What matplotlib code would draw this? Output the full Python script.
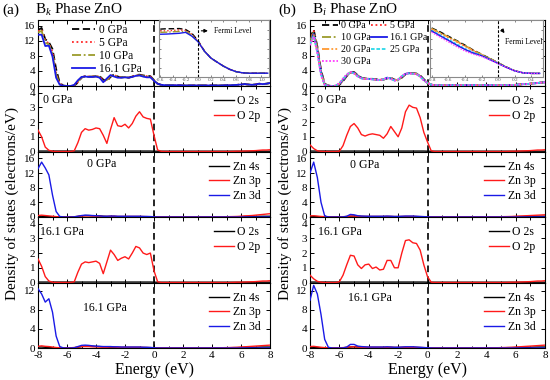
import numpy as np
import matplotlib
matplotlib.use("Agg")
import matplotlib.pyplot as plt
from matplotlib.ticker import MultipleLocator

plt.rcParams['font.family'] = ['Liberation Serif', 'DejaVu Serif']
plt.rcParams['mathtext.fontset'] = 'custom'
plt.rcParams['mathtext.rm'] = 'Liberation Serif'
plt.rcParams['mathtext.it'] = 'Liberation Serif:italic'
plt.rcParams['axes.unicode_minus'] = False

# ---------------- data ----------------
energy = np.linspace(-8, 8, 65)   # eV, 0.25 eV steps

Z8 = [0, 0, 0, 0, 0, 0, 0, 0]

# ---- (a) Bk phase : total DOS ----
tot_a_0 = [14.8, 15.4, 12.4, 11.6, 9.8, 4.5, 0.8, 0.1,
           0.0, 0.0, 0.1, 0.9, 2.2, 2.6, 2.5, 2.5,
           2.6, 2.6, 1.7, 1.3, 2.4, 3.1, 2.5, 2.3,
           2.4, 2.2, 2.5, 2.9, 3.0, 2.8, 2.7, 2.6,
           1.6, 0.6, 0.3, 0.22, 0.2, 0.2, 0.2, 0.2,
           0.15, 0.15, 0.15, 0.15, 0.15, 0.15, 0.15, 0.15,
           0.15, 0.15, 0.15, 0.15, 0.2, 0.2, 0.25, 0.3,
           0.4, 0.5, 0.4, 0.3, 0.4, 0.6, 0.5, 0.6, 0.8]
tot_a_5 = [14.5, 15.0, 12.0, 11.3, 9.0, 3.5, 0.6, 0.08,
           0.0, 0.0, 0.15, 1.0, 2.3, 2.6, 2.5, 2.5,
           2.6, 2.5, 1.5, 1.4, 2.5, 3.0, 2.4, 2.3,
           2.4, 2.2, 2.5, 2.8, 2.9, 2.7, 2.6, 2.5,
           1.55, 0.6, 0.3, 0.22, 0.2, 0.2, 0.2, 0.2,
           0.15, 0.15, 0.15, 0.15, 0.15, 0.15, 0.15, 0.15,
           0.15, 0.15, 0.15, 0.15, 0.2, 0.2, 0.25, 0.3,
           0.4, 0.5, 0.4, 0.3, 0.4, 0.6, 0.5, 0.6, 0.8]
tot_a_10 = [14.2, 14.6, 11.5, 11.0, 8.6, 3.0, 0.5, 0.06,
            0.0, 0.0, 0.2, 1.2, 2.3, 2.5, 2.45, 2.45,
            2.55, 2.4, 1.3, 1.6, 2.7, 2.8, 2.35, 2.25,
            2.35, 2.2, 2.45, 2.75, 2.85, 2.6, 2.5, 2.45,
            1.5, 0.6, 0.3, 0.22, 0.2, 0.2, 0.2, 0.2,
            0.15, 0.15, 0.15, 0.15, 0.15, 0.15, 0.15, 0.15,
            0.15, 0.15, 0.15, 0.15, 0.2, 0.2, 0.25, 0.3,
            0.4, 0.5, 0.4, 0.3, 0.4, 0.6, 0.5, 0.6, 0.8]
tot_a_16 = [13.6, 13.6, 10.6, 10.7, 7.8, 2.2, 0.35, 0.05,
            0.0, 0.0, 0.3, 1.5, 2.4, 2.5, 2.4, 2.4,
            2.5, 2.2, 1.0, 2.0, 2.9, 2.5, 2.2, 2.2,
            2.3, 2.2, 2.4, 2.7, 2.8, 2.5, 2.3, 2.3,
            1.4, 0.6, 0.3, 0.22, 0.2, 0.2, 0.2, 0.2,
            0.15, 0.15, 0.15, 0.15, 0.15, 0.15, 0.15, 0.15,
            0.15, 0.15, 0.15, 0.15, 0.2, 0.2, 0.25, 0.3,
            0.4, 0.5, 0.4, 0.3, 0.4, 0.6, 0.5, 0.6, 0.8]

# ---- (a) PDOS 0 GPa ----
o2s_a0 = [0.03] * 32 + [0.02] * 33
o2p_a0 = [1.45, 1.0, 0.3, 0.08, 0.02, 0.0, 0.0, 0.0,
          0.0, 0.0, 0.05, 0.6, 1.3, 1.55, 1.45, 1.5,
          1.6, 1.55, 1.1, 0.55, 1.5, 2.3, 1.75, 1.7,
          1.85, 1.6, 1.9, 2.4, 2.7, 2.35, 2.25, 2.2,
          1.1, 0.1, 0.01, 0, 0, 0, 0, 0] + Z8 + \
         [0, 0, 0, 0, 0, 0, 0.01, 0.02,
          0.02, 0.03, 0.04, 0.05, 0.06, 0.08, 0.1, 0.1, 0.12]
zn4s_a0 = [0.2, 0.2, 0.15, 0.1, 0.05, 0.03, 0.02, 0.02,
           0.02, 0.02, 0.05, 0.15, 0.3, 0.4, 0.4, 0.35,
           0.3, 0.3, 0.2, 0.15, 0.15, 0.15, 0.1, 0.1,
           0.1, 0.1, 0.1, 0.1, 0.1, 0.1, 0.08, 0.06,
           0.04, 0.03, 0.03, 0.03, 0.03, 0.03, 0.03, 0.03,
           0.03, 0.03, 0.03, 0.03, 0.04, 0.04, 0.04, 0.04,
           0.05, 0.05, 0.05, 0.05, 0.06, 0.06, 0.08, 0.08,
           0.1, 0.12, 0.12, 0.15, 0.15, 0.18, 0.2, 0.2, 0.2]
zn3p_a0 = [0.4, 0.5, 0.4, 0.3, 0.2, 0.1, 0.05, 0.05,
           0.05, 0.05, 0.08, 0.15, 0.25, 0.3, 0.3, 0.25,
           0.25, 0.2, 0.15, 0.15, 0.2, 0.2, 0.15, 0.15,
           0.15, 0.15, 0.15, 0.15, 0.15, 0.12, 0.1, 0.08,
           0.05, 0.05, 0.05, 0.05, 0.05, 0.05, 0.05, 0.05,
           0.05, 0.05, 0.05, 0.05, 0.05, 0.05, 0.05, 0.05,
           0.05, 0.05, 0.06, 0.06, 0.08, 0.1, 0.12, 0.15,
           0.2, 0.3, 0.35, 0.4, 0.5, 0.6, 0.7, 0.8, 0.9]
zn3d_a0 = [13.2, 15.0, 13.4, 11.5, 6.0, 1.5, 0.15, 0.02,
           0.0, 0.0, 0.05, 0.2, 0.4, 0.5, 0.45, 0.4,
           0.35, 0.3, 0.2, 0.2, 0.25, 0.25, 0.2, 0.2,
           0.2, 0.2, 0.2, 0.2, 0.2, 0.15, 0.15, 0.12,
           0.05, 0.01, 0, 0, 0, 0, 0, 0] + Z8 + Z8 + Z8 + [0]

# ---- (a) PDOS 16.1 GPa ----
o2s_a16 = [0.03] * 32 + [0.02] * 33
o2p_a16 = [1.6, 1.1, 0.4, 0.1, 0.02, 0.0, 0.0, 0.0,
           0.0, 0.0, 0.05, 0.7, 1.25, 1.4, 1.35, 1.4,
           1.45, 1.3, 0.6, 1.4, 2.2, 1.9, 1.5, 1.65,
           1.75, 1.6, 2.0, 2.45, 2.35, 2.0, 1.9, 2.0,
           0.8, 0.05, 0.0, 0, 0, 0, 0, 0] + Z8 + \
          [0, 0, 0, 0, 0, 0, 0.01, 0.02,
           0.02, 0.03, 0.04, 0.05, 0.06, 0.08, 0.1, 0.1, 0.12]
zn4s_a16 = zn4s_a0
zn3p_a16 = [0.35, 0.45, 0.35, 0.3, 0.2, 0.1, 0.05, 0.05,
            0.05, 0.05, 0.1, 0.2, 0.3, 0.3, 0.3, 0.25,
            0.25, 0.2, 0.15, 0.15, 0.2, 0.2, 0.15, 0.15,
            0.15, 0.15, 0.15, 0.15, 0.15, 0.12, 0.1, 0.08,
            0.05, 0.05, 0.05, 0.05, 0.05, 0.05, 0.05, 0.05,
            0.05, 0.05, 0.05, 0.05, 0.05, 0.05, 0.05, 0.05,
            0.05, 0.05, 0.06, 0.06, 0.08, 0.1, 0.12, 0.15,
            0.2, 0.25, 0.3, 0.35, 0.4, 0.45, 0.5, 0.55, 0.6]
zn3d_a16 = [12.4, 11.3, 9.6, 10.3, 7.5, 2.5, 0.3, 0.02,
            0.0, 0.0, 0.05, 0.3, 0.55, 0.6, 0.55, 0.45,
            0.4, 0.35, 0.3, 0.3, 0.3, 0.25, 0.25, 0.2,
            0.2, 0.2, 0.2, 0.2, 0.2, 0.15, 0.15, 0.12,
            0.05, 0.01, 0, 0, 0, 0, 0, 0] + Z8 + Z8 + Z8 + [0]

# ---- (b) Bi phase : total DOS ----
tail_b = [0.8, 0.35, 0.2, 0.2, 0.2, 0.2, 0.2, 0.2,
          0.2, 0.2, 0.2, 0.2, 0.2, 0.2, 0.2, 0.2,
          0.2, 0.2, 0.2, 0.2, 0.2, 0.2, 0.2, 0.25,
          0.3, 0.4, 0.5, 0.5, 0.6, 0.7, 0.8, 0.9, 1.0]
tot_b_0 = [12.5, 15.0, 10.5, 4.2, 0.6, 0.1, 0.0, 0.02,
           0.3, 1.3, 2.6, 3.5, 3.7, 2.9, 2.2, 2.0,
           1.9, 1.9, 1.8, 1.7, 1.7, 2.0, 2.2, 1.7,
           1.5, 2.2, 3.1, 3.5, 3.4, 3.3, 2.8, 1.8] + tail_b
tot_b_5 = [12.2, 14.6, 10.2, 4.0, 0.5, 0.08, 0.0, 0.03,
           0.35, 1.4, 2.7, 3.5, 3.6, 2.8, 2.15, 1.95,
           1.9, 1.85, 1.75, 1.65, 1.7, 2.1, 2.1, 1.6,
           1.55, 2.3, 3.15, 3.45, 3.35, 3.25, 2.7, 1.7] + tail_b
tot_b_10 = [12.0, 14.3, 10.0, 3.8, 0.45, 0.06, 0.0, 0.04,
            0.4, 1.5, 2.75, 3.55, 3.55, 2.75, 2.1, 1.92,
            1.9, 1.8, 1.7, 1.6, 1.7, 2.15, 2.05, 1.55,
            1.58, 2.4, 3.18, 3.42, 3.32, 3.22, 2.65, 1.65] + tail_b
tot_b_16 = [11.5, 13.8, 9.5, 3.5, 0.4, 0.05, 0.0, 0.05,
            0.5, 1.6, 2.8, 3.6, 3.5, 2.7, 2.1, 1.9,
            1.9, 1.8, 1.7, 1.6, 1.7, 2.2, 2.0, 1.5,
            1.6, 2.5, 3.2, 3.4, 3.3, 3.2, 2.6, 1.6] + tail_b
tot_b_20 = [11.2, 13.5, 9.2, 3.2, 0.35, 0.04, 0.0, 0.06,
            0.6, 1.8, 2.9, 3.6, 3.4, 2.6, 2.05, 1.88,
            1.88, 1.78, 1.68, 1.58, 1.72, 2.2, 1.95, 1.48,
            1.65, 2.55, 3.22, 3.38, 3.28, 3.18, 2.55, 1.55] + tail_b
tot_b_25 = [11.0, 13.3, 9.0, 3.0, 0.3, 0.03, 0.0, 0.07,
            0.7, 1.9, 3.0, 3.65, 3.35, 2.55, 2.0, 1.85,
            1.86, 1.76, 1.66, 1.56, 1.74, 2.2, 1.9, 1.45,
            1.7, 2.6, 3.25, 3.36, 3.26, 3.16, 2.5, 1.5] + tail_b
tot_b_30 = [10.8, 13.1, 8.8, 2.8, 0.3, 0.03, 0.0, 0.08,
            0.8, 2.0, 3.1, 3.7, 3.3, 2.5, 2.0, 1.85,
            1.85, 1.75, 1.65, 1.55, 1.75, 2.2, 1.85, 1.42,
            1.75, 2.65, 3.28, 3.35, 3.25, 3.15, 2.45, 1.45] + tail_b

# ---- (b) PDOS 0 GPa ----
o2s_b0 = [0.03] * 32 + [0.02] * 33
o2p_b0 = [0.45, 0.2, 0.05, 0.01, 0.0, 0.0, 0.0, 0.0,
          0.02, 0.4, 1.1, 1.7, 1.9, 1.6, 1.15, 1.05,
          1.15, 1.2, 1.15, 1.1, 0.9, 1.2, 1.7, 1.35,
          1.0, 1.6, 2.7, 3.15, 3.0, 2.95, 2.3, 1.3,
          0.65, 0.05, 0.0, 0, 0, 0, 0, 0] + Z8 + \
         [0, 0, 0, 0, 0, 0, 0.01, 0.02,
          0.02, 0.03, 0.04, 0.05, 0.06, 0.08, 0.1, 0.1, 0.12]
zn4s_b0 = [0.15, 0.15, 0.1, 0.05, 0.03, 0.02, 0.02, 0.02,
           0.02, 0.05, 0.1, 0.2, 0.25, 0.2, 0.15, 0.12,
           0.1, 0.1, 0.1, 0.1, 0.1, 0.12, 0.12, 0.1,
           0.1, 0.1, 0.12, 0.12, 0.12, 0.1, 0.08, 0.06,
           0.04, 0.03, 0.03, 0.03, 0.03, 0.03, 0.03, 0.03,
           0.03, 0.03, 0.03, 0.03, 0.04, 0.04, 0.04, 0.04,
           0.05, 0.05, 0.05, 0.05, 0.06, 0.06, 0.08, 0.08,
           0.1, 0.12, 0.12, 0.15, 0.15, 0.18, 0.2, 0.2, 0.2]
zn3p_b0 = [0.3, 0.35, 0.25, 0.15, 0.08, 0.05, 0.05, 0.05,
           0.05, 0.08, 0.15, 0.25, 0.25, 0.2, 0.15, 0.15,
           0.15, 0.15, 0.15, 0.15, 0.15, 0.15, 0.15, 0.12,
           0.12, 0.15, 0.15, 0.15, 0.15, 0.12, 0.1, 0.08,
           0.05, 0.05, 0.05, 0.05, 0.05, 0.05, 0.05, 0.05,
           0.05, 0.05, 0.05, 0.05, 0.05, 0.05, 0.05, 0.05,
           0.05, 0.05, 0.06, 0.06, 0.08, 0.1, 0.12, 0.15,
           0.2, 0.25, 0.3, 0.35, 0.4, 0.45, 0.5, 0.55, 0.6]
zn3d_b0 = [12.0, 15.0, 10.8, 4.0, 0.3, 0.02, 0.0, 0.0,
           0.0, 0.02, 0.2, 0.7, 0.6, 0.35, 0.25, 0.22,
           0.2, 0.2, 0.2, 0.2, 0.2, 0.25, 0.2, 0.15,
           0.15, 0.2, 0.25, 0.25, 0.25, 0.2, 0.15, 0.1,
           0.05, 0.01, 0, 0, 0, 0, 0, 0] + Z8 + Z8 + Z8 + [0]

# ---- (b) PDOS 16.1 GPa ----
o2s_b16 = [0.03] * 32 + [0.02] * 33
o2p_b16 = [0.5, 0.25, 0.08, 0.02, 0.0, 0.0, 0.0, 0.0,
           0.05, 0.5, 1.2, 1.85, 1.8, 1.2, 0.95, 1.2,
           1.25, 0.95, 1.05, 0.85, 0.9, 1.5, 1.5, 1.0,
           1.0, 2.0, 2.85, 2.9, 2.7, 2.65, 2.2, 1.2,
           0.4, 0.02, 0.0, 0, 0, 0, 0, 0] + Z8 + \
          [0, 0, 0, 0, 0, 0, 0.01, 0.02,
           0.02, 0.03, 0.04, 0.05, 0.06, 0.08, 0.1, 0.1, 0.12]
zn4s_b16 = zn4s_b0
zn3p_b16 = zn3p_b0
zn3d_b16 = [10.0, 13.1, 11.3, 7.0, 1.8, 0.15, 0.0, 0.0,
            0.0, 0.02, 0.2, 0.75, 0.75, 0.4, 0.3, 0.25,
            0.2, 0.2, 0.2, 0.2, 0.2, 0.25, 0.2, 0.15,
            0.15, 0.2, 0.25, 0.25, 0.25, 0.2, 0.15, 0.1,
            0.05, 0.01, 0, 0, 0, 0, 0, 0] + Z8 + Z8 + Z8 + [0]

# ---- insets (zoom around the Fermi level) ----
ins_a_e = [-0.6, -0.5, -0.4, -0.3, -0.2, -0.1, 0.0, 0.1, 0.2,
           0.3, 0.4, 0.5, 0.6, 0.7, 0.8, 0.9, 1.0, 1.1]
ins_a_0 = [2.52, 2.54, 2.54, 2.55, 2.5, 2.3, 1.9, 1.36, 1.0,
           0.78, 0.57, 0.4, 0.28, 0.22, 0.2, 0.2, 0.2, 0.2]
ins_a_5 = [2.42, 2.43, 2.45, 2.48, 2.45, 2.25, 1.88, 1.36, 1.0,
           0.78, 0.57, 0.4, 0.28, 0.22, 0.2, 0.2, 0.2, 0.2]
ins_a_10 = [2.35, 2.36, 2.38, 2.4, 2.4, 2.2, 1.86, 1.35, 1.0,
            0.78, 0.57, 0.4, 0.28, 0.22, 0.2, 0.2, 0.2, 0.2]
ins_a_16 = [2.25, 2.26, 2.28, 2.3, 2.35, 2.15, 1.85, 1.35, 1.0,
            0.78, 0.57, 0.4, 0.28, 0.22, 0.2, 0.2, 0.2, 0.2]

ins_b_e = [-0.8, -0.7, -0.6, -0.5, -0.4, -0.3, -0.2, -0.1, 0.0,
           0.1, 0.2, 0.3, 0.4, 0.5]
ins_b_0 = [2.58, 2.38, 2.15, 1.92, 1.68, 1.42, 1.2, 0.98, 0.75,
           0.52, 0.33, 0.22, 0.19, 0.19]
ins_b_5 = [2.52, 2.3, 2.08, 1.85, 1.62, 1.38, 1.17, 0.95, 0.74,
           0.52, 0.33, 0.22, 0.19, 0.19]
ins_b_10 = [2.55, 2.34, 2.12, 1.9, 1.66, 1.41, 1.19, 0.97, 0.75,
            0.52, 0.33, 0.22, 0.19, 0.19]
ins_b_16 = [2.42, 2.17, 1.93, 1.68, 1.45, 1.26, 1.12, 0.92, 0.71,
            0.51, 0.32, 0.22, 0.19, 0.19]
ins_b_20 = [2.53, 2.31, 2.1, 1.87, 1.63, 1.4, 1.18, 0.96, 0.74,
            0.52, 0.33, 0.22, 0.19, 0.19]
ins_b_25 = [2.45, 2.22, 1.98, 1.74, 1.5, 1.3, 1.14, 0.93, 0.72,
            0.51, 0.32, 0.22, 0.19, 0.19]
ins_b_30 = [2.36, 2.1, 1.85, 1.6, 1.37, 1.2, 1.08, 0.9, 0.7,
            0.5, 0.32, 0.22, 0.19, 0.19]

pressure_labels = ['0 GPa', '5 GPa', '10 GPa', '16.1 GPa', '20 GPa', '25 GPa', '30 GPa']

# ---------------- styles ----------------
STY = {
    '0 GPa': dict(color='black', ls=(0, (4, 2))),
    '5 GPa': dict(color='#ff2a2a', ls=(0, (1, 1.5))),
    '10 GPa': dict(color='#9c9c2c', ls=(0, (5, 1.5, 1, 1.5))),
    '16.1 GPa': dict(color='#1a1ae6', ls='-'),
    '20 GPa': dict(color='#ff9a33', ls=(0, (4, 1.2, 1, 1.2, 1, 1.2))),
    '25 GPa': dict(color='#2ad8e8', ls=(0, (2, 1))),
    '30 GPa': dict(color='#ff3cff', ls=(0, (1, 1))),
}

W, H = 550, 380
fig = plt.figure(figsize=(W / 100, H / 100), dpi=100)


def add_ax(x0, y0, x1, y1):
    return fig.add_axes([x0 / W, 1 - y1 / H, (x1 - x0) / W, (y1 - y0) / H])


rows = [(20, 86), (86, 151.5), (151.5, 217), (217, 282.5), (282.5, 348)]
cols = [(38, 270), (310, 545)]


def style_main(ax, ylim, yticks, bottom):
    ax.set_xlim(-8, 8)
    ax.set_ylim(*ylim)
    ax.set_yticks(yticks)
    ax.set_xticks(np.arange(-8, 9, 2))
    ax.xaxis.set_minor_locator(MultipleLocator(1))
    ax.tick_params(which='both', direction='in', top=True, right=True,
                   labelsize=8, pad=2, width=0.7)
    ax.tick_params(which='major', length=3)
    ax.tick_params(which='minor', length=1.8)
    ax.tick_params(axis='x', labelbottom=bottom)
    for s in ax.spines.values():
        s.set_linewidth(0.8)
    ax.axvline(0, color='black', ls=(0, (4, 2.5)), lw=1.2, zorder=1)


def pdos_panel(ax, curves, labels, colors, ylim, yticks, bottom, note, note_xy):
    style_main(ax, ylim, yticks, bottom)
    for c, lab, col in zip(curves, labels, colors):
        ax.plot(energy, c, color=col, lw=1.0, label=lab, zorder=3)
    ax.legend(loc='upper right', frameon=False, fontsize=8.5, handlelength=1.7,
              handletextpad=0.3, labelspacing=0.2, borderaxespad=0.5,
              borderpad=0.3)
    ax.text(note_xy[0], note_xy[1], note, transform=ax.transAxes,
            fontsize=8.5, ha='left', va='center')


def inset(ax_parent_box, xe, series, labels, xlim, xticks, tick_fmt):
    ia = add_ax(*ax_parent_box)
    for s, lab in zip(series, labels):
        st = STY[lab]
        ia.plot(xe, s, color=st['color'], ls=st['ls'], lw=1.0)
    ia.set_xlim(*xlim)
    ia.set_ylim(0, 3)
    ia.set_xticks(xticks)
    ia.set_xticklabels([tick_fmt % t for t in xticks])
    ia.set_yticks([0.5, 1.0, 1.5, 2.0, 2.5])
    ia.set_yticklabels([])
    ia.tick_params(direction='in', length=1.5, width=0.5, labelsize=3.8, pad=0.8,
                   top=True, right=True, colors='#555555')
    for s in ia.spines.values():
        s.set_color('#8a8a8a')
        s.set_linewidth(0.8)
    ia.axvline(0, color='black', ls=(0, (2.5, 1.5)), lw=0.8)
    return ia


# ================= column (a) =================
xa0, xa1 = cols[0]
ax = add_ax(xa0, rows[0][0], xa1, rows[0][1])
style_main(ax, (0, 17.5), [0, 4, 8, 12, 16], False)
for s, lab in zip([tot_a_0, tot_a_5, tot_a_10, tot_a_16], pressure_labels[:4]):
    st = STY[lab]
    ax.plot(energy, s, color=st['color'], ls=st['ls'], lw=1.3, label=lab, zorder=3)
ax.legend(loc='upper left', bbox_to_anchor=(0.135, 0.98), frameon=False, fontsize=8.3,
          handlelength=2.0, handletextpad=0.35, labelspacing=0.08, borderaxespad=0,
          borderpad=0.25)
ia = inset((159, 20, 269, 77), ins_a_e, [ins_a_0, ins_a_5, ins_a_10, ins_a_16],
           pressure_labels[:4], (-0.62, 1.12),
           [-0.6, -0.4, -0.2, 0.0, 0.2, 0.4, 0.6, 0.8, 1.0], '%.1f')
ia.annotate('', xy=(0.47, 0.81), xytext=(0.36, 0.81), xycoords='axes fraction',
            arrowprops=dict(arrowstyle='-|>', color='black', lw=0.8, mutation_scale=5))
ia.text(0.5, 0.81, 'Fermi Level', transform=ia.transAxes, fontsize=5.5,
        ha='left', va='center')

ax = add_ax(xa0, rows[1][0], xa1, rows[1][1])
pdos_panel(ax, [o2s_a0, o2p_a0], ['O 2s', 'O 2p'], ['black', '#ff1a1a'],
           (0, 4.45), [0, 1, 2, 3, 4], False, '0 GPa', (0.022, 0.79))
ax = add_ax(xa0, rows[2][0], xa1, rows[2][1])
pdos_panel(ax, [zn4s_a0, zn3p_a0, zn3d_a0], ['Zn 4s', 'Zn 3p', 'Zn 3d'],
           ['black', '#ff1a1a', '#1a1ae6'], (0, 17.9), [0, 4, 8, 12, 16], False,
           '0 GPa', (0.211, 0.81))
ax = add_ax(xa0, rows[3][0], xa1, rows[3][1])
pdos_panel(ax, [o2s_a16, o2p_a16], ['O 2s', 'O 2p'], ['black', '#ff1a1a'],
           (0, 4.45), [0, 1, 2, 3, 4], False, '16.1 GPa', (0.009, 0.77))
ax = add_ax(xa0, rows[4][0], xa1, rows[4][1])
pdos_panel(ax, [zn4s_a16, zn3p_a16, zn3d_a16], ['Zn 4s', 'Zn 3p', 'Zn 3d'],
           ['black', '#ff1a1a', '#1a1ae6'], (0, 13.7), [0, 4, 8, 12], True,
           '16.1 GPa', (0.194, 0.61))

# ================= column (b) =================
xb0, xb1 = cols[1]
ax = add_ax(xb0, rows[0][0], xb1, rows[0][1])
style_main(ax, (0, 17.5), [0, 4, 8, 12, 16], False)
lines_b = {}
for s, lab in zip([tot_b_0, tot_b_5, tot_b_10, tot_b_16, tot_b_20, tot_b_25, tot_b_30],
                  pressure_labels):
    st = STY[lab]
    lines_b[lab], = ax.plot(energy, s, color=st['color'], ls=st['ls'], lw=1.3,
                            label=lab, zorder=3)
leg_order = ['0 GPa', '10 GPa', '20 GPa', '30 GPa', '5 GPa', '16.1 GPa', '25 GPa']
ax.legend([lines_b[k] for k in leg_order], leg_order, loc='upper left',
          bbox_to_anchor=(0.045, 1.0), frameon=False, fontsize=7.2,
          ncol=2, handlelength=1.6, handletextpad=0.25, labelspacing=0.3,
          columnspacing=0.1, borderaxespad=0, borderpad=0.15)
ib = inset((430, 20, 543, 77), ins_b_e,
           [ins_b_0, ins_b_5, ins_b_10, ins_b_20, ins_b_25, ins_b_16, ins_b_30],
           ['0 GPa', '5 GPa', '10 GPa', '20 GPa', '25 GPa', '16.1 GPa', '30 GPa'],
           (-0.82, 0.54), [-0.8, -0.6, -0.4, -0.2, 0.0, 0.2, 0.4], '%.1f')
ib.annotate('', xy=(0.675, 0.73), xytext=(0.62, 0.87), xycoords='axes fraction',
            arrowprops=dict(arrowstyle='-|>', color='black', lw=0.9, mutation_scale=5))
ib.text(0.66, 0.62, 'Fermi Level', transform=ib.transAxes, fontsize=5.5,
        ha='left', va='center')

ax = add_ax(xb0, rows[1][0], xb1, rows[1][1])
pdos_panel(ax, [o2s_b0, o2p_b0], ['O 2s', 'O 2p'], ['black', '#ff1a1a'],
           (0, 4.45), [0, 1, 2, 3, 4], False, '0 GPa', (0.03, 0.79))
ax = add_ax(xb0, rows[2][0], xb1, rows[2][1])
pdos_panel(ax, [zn4s_b0, zn3p_b0, zn3d_b0], ['Zn 4s', 'Zn 3p', 'Zn 3d'],
           ['black', '#ff1a1a', '#1a1ae6'], (0, 17.9), [0, 4, 8, 12, 16], False,
           '0 GPa', (0.17, 0.79))
ax = add_ax(xb0, rows[3][0], xb1, rows[3][1])
pdos_panel(ax, [o2s_b16, o2p_b16], ['O 2s', 'O 2p'], ['black', '#ff1a1a'],
           (0, 4.45), [0, 1, 2, 3, 4], False, '16.1 GPa', (0.034, 0.77))
ax = add_ax(xb0, rows[4][0], xb1, rows[4][1])
pdos_panel(ax, [zn4s_b16, zn3p_b16, zn3d_b16], ['Zn 4s', 'Zn 3p', 'Zn 3d'],
           ['black', '#ff1a1a', '#1a1ae6'], (0, 13.7), [0, 4, 8, 12], True,
           '16.1 GPa', (0.162, 0.76))

# ================= titles and labels =================
fig.text(2 / W, 1 - 10 / H, '(a)', fontsize=11, va='center', ha='left')
fig.text(35 / W, 1 - 10 / H, 'B$_k$ Phase ZnO', fontsize=11, va='center', ha='left')
fig.text(278 / W, 1 - 10 / H, '(b)', fontsize=11, va='center', ha='left')
fig.text(312 / W, 1 - 10 / H, 'B$_i$ Phase ZnO', fontsize=11, va='center', ha='left')

for xc in (12, 285):
    fig.text(xc / W, 1 - 203 / H, 'Density of states (electrons/eV)', rotation=90,
             fontsize=11, va='center', ha='center')
for xc in (154, 427.5):
    fig.text(xc / W, 1 - 369.5 / H, 'Energy (eV)', fontsize=11.5, va='center', ha='center')

fig.savefig('out.png', dpi=100)
